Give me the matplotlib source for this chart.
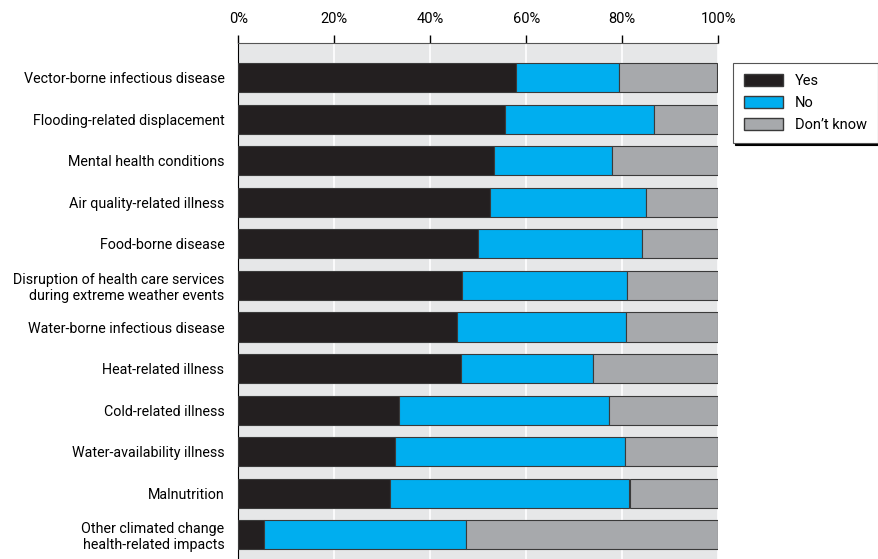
import matplotlib
matplotlib.use("Agg")
import matplotlib.pyplot as plt
import numpy as np
from matplotlib.patches import Patch

categories = [
    "Vector-borne infectious disease",
    "Flooding-related displacement",
    "Mental health conditions",
    "Air quality-related illness",
    "Food-borne disease",
    "Disruption of health care services\nduring extreme weather events",
    "Water-borne infectious disease",
    "Heat-related illness",
    "Cold-related illness",
    "Water-availability illness",
    "Malnutrition",
    "Other climated change\nhealth-related impacts",
]
yes = [57.9, 55.6, 53.3, 52.5, 49.9, 46.7, 45.6, 46.3, 33.4, 32.6, 31.7, 5.3]
no = [21.5, 31.1, 24.5, 32.5, 34.3, 34.3, 35.2, 27.5, 43.8, 47.9, 49.8, 42.1]
dont_know = [20.3, 13.2, 22.2, 15.0, 15.8, 19.0, 19.2, 26.2, 22.7, 19.5, 18.5, 52.6]
series_names = ["Yes", "No", "Don\u2019t know"]
x_ticks = [0, 20, 40, 60, 80, 100]

plt.rcParams['font.family'] = ['Roboto', 'DejaVu Sans']

colors = ["#231f20", "#00aeef", "#a7a9ac"]
fig = plt.figure(figsize=(8.79, 5.59), dpi=100)
ax = fig.add_axes([238.3 / 879, 0, 480 / 879, 1 - 42.7 / 559])
ax.set_facecolor("#e6e7e8")

y = np.arange(len(categories))
left = np.zeros(len(categories))
for vals, c, name in zip([yes, no, dont_know], colors, series_names):
    ax.barh(y, vals, left=left, height=0.70, color=c, edgecolor="#3a3a3a",
            linewidth=0.8, label=name, zorder=3)
    left += np.array(vals)

ax.set_xlim(0, 100)
ax.set_ylim(len(categories) - 1 + 0.58, -0.84)
ax.set_yticks(y)
ax.set_yticklabels(categories, fontsize=10.3, linespacing=1.15)
ax.tick_params(axis="y", length=0, pad=10)

ax.xaxis.tick_top()
ax.set_xticks(x_ticks)
ax.set_xticklabels([f"{t}%" for t in x_ticks], fontsize=10.5)
ax.tick_params(axis="x", direction="out", length=6, width=1, color="black", pad=6)
ax.grid(axis="x", color="white", linewidth=1.2, zorder=1)
ax.set_axisbelow(True)

for s in ["right", "bottom"]:
    ax.spines[s].set_visible(False)
ax.spines["top"].set_color("#555555")
ax.spines["left"].set_color("black")

handles = [Patch(facecolor=c, edgecolor="#3a3a3a", label=n) for c, n in zip(colors, series_names)]
leg = fig.legend(handles=handles, loc="upper left", bbox_to_anchor=(733 / 879, 1 - 63 / 559),
                 fontsize=10.5, frameon=True, fancybox=False, edgecolor="#555555",
                 shadow={"color": "black", "alpha": 1, "ox": 1.5, "oy": -1.5},
                 handlelength=2.7, handleheight=0.85,
                 labelspacing=0.55, borderpad=0.75, handletextpad=0.8, borderaxespad=0)
leg.get_frame().set_linewidth(0.8)

fig.savefig("out.png", dpi=100)
